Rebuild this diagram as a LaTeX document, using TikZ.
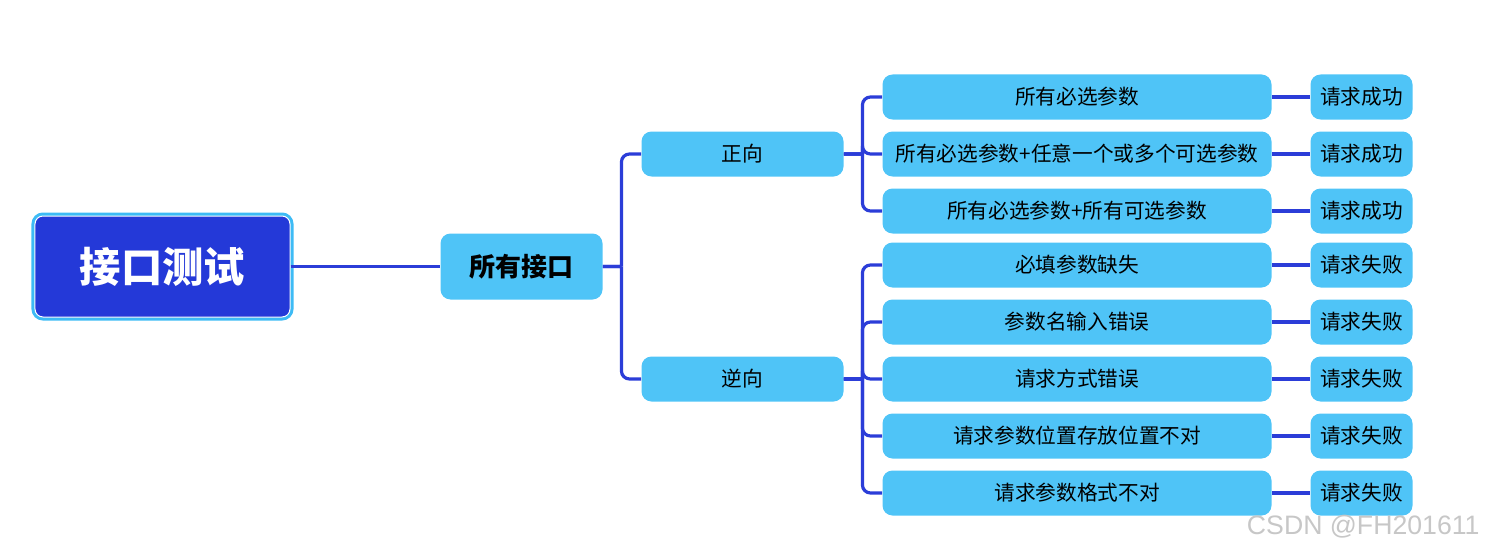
\documentclass[tikz,border=0pt]{standalone}
\usepackage{fontspec}
\setmainfont{Noto Sans CJK SC}
\newfontfamily\wmfont{Liberation Sans}
\usetikzlibrary{trees}
\definecolor{rootblue}{HTML}{2439D8}
\definecolor{ringblue}{HTML}{3DBBF5}
\definecolor{boxblue}{HTML}{4FC4F7}
\definecolor{linkblue}{HTML}{2B3DD8}
\providecommand{\fs}[1]{\fontsize{#1}{1.2\dimexpr#1\relax}\selectfont}

\begin{document}
\begin{tikzpicture}[
    every node/.style={fill=boxblue, rounded corners=7.5pt, inner sep=0pt,
      minimum height=33.75pt, font=\fs{15.5pt}},
    rootbox/.style={fill=rootblue, draw=white, line width=0.75pt,
      preaction={draw=ringblue, line width=5.25pt}, text=white,
      rounded corners=6pt, minimum width=191.25pt, minimum height=75.75pt,
      font=\fs{31pt}\bfseries},
    allbox/.style={minimum width=121.5pt, minimum height=49.5pt,
      font=\fs{19.5pt}\bfseries},
    dirbox/.style={minimum width=151.5pt},
    casebox/.style={minimum width=291.75pt},
    resbox/.style={minimum width=76.5pt},
    straight/.style={edge from parent path={
        (\tikzparentnode.east) -- (\tikzchildnode.west)}},
    elbow/.style={edge from parent path={
        (\tikzparentnode.east) -- ++(14pt,0) ++(0,0)
        [rounded corners=6pt] |- (\tikzchildnode.west)}}
  ]
  \useasboundingbox (-121.875pt,199.875pt) rectangle (994.125pt,-215.625pt);
  \node (test) [rootbox] {接口测试}[
      grow'=right,
      edge from parent/.style={draw=linkblue, line width=2.4pt},
      level 1/.style={level distance=269.25pt, straight},
      level 2/.style={level distance=165.75pt, sibling distance=168.75pt, elbow},
      level 3/.style={level distance=250.875pt, sibling distance=42.75pt, elbow},
      level 4/.style={level distance=213.375pt, straight}
    ]
    child { node (all) [allbox] {所有接口}
      child { node (pos) [dirbox] {正向}
        child { node (pos1) [casebox] {所有必选参数}
          child { node (ok1) [resbox] {请求成功}}
        }
        child { node (pos2) [casebox] {所有必选参数+任意一个或多个可选参数}
          child { node (ok2) [resbox] {请求成功}}
        }
        child { node (pos3) [casebox] {所有必选参数+所有可选参数}
          child { node (ok3) [resbox] {请求成功}}
        }
      }
      child { node (neg) [dirbox] {逆向}
        child { node (neg1) [casebox] {必填参数缺失}
          child { node (fail1) [resbox] {请求失败}}
        }
        child { node (neg2) [casebox] {参数名输入错误}
          child { node (fail2) [resbox] {请求失败}}
        }
        child { node (neg3) [casebox] {请求方式错误}
          child { node (fail3) [resbox] {请求失败}}
        }
        child { node (neg4) [casebox] {请求参数位置存放位置不对}
          child { node (fail4) [resbox] {请求失败}}
        }
        child { node (neg5) [casebox] {请求参数格式不对}
          child { node (fail5) [resbox] {请求失败}}
        }
      }
    };
  \node (watermark) [fill=none, minimum height=0pt, anchor=east, text=black!22,
    font=\wmfont\fs{20pt}] at (988pt,-195.4pt) {CSDN @FH201611};
\end{tikzpicture}
\end{document}
